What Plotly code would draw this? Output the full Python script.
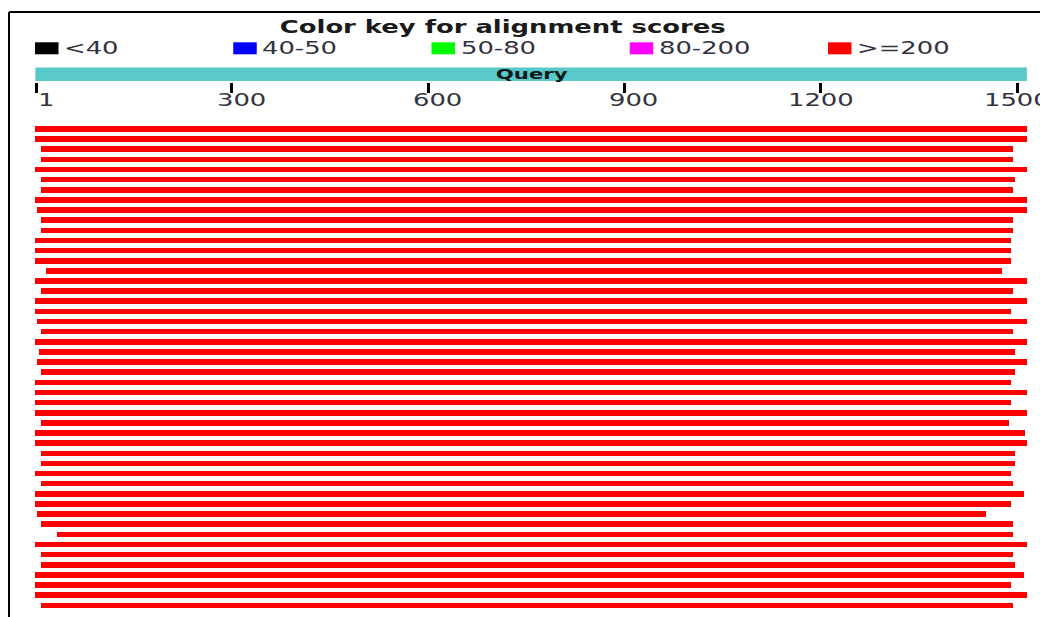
import plotly.graph_objects as go

# ---------------- data ----------------
query_length = 1515
tick_values = [1, 300, 600, 900, 1200, 1500]
tick_labels = ["1", "300", "600", "900", "1200", "1500"]
key_labels = ["<40", "40-50", "50-80", "80-200", ">=200"]
key_colors = ["#000000", "#0000FF", "#00FF00", "#FF00FF", "#FF0000"]

hit_starts = [1, 1, 9, 9, 1, 9, 9, 1, 4, 9, 9, 1, 1, 1, 17, 1, 9, 1, 1, 4, 9, 1, 6, 4,
              9, 1, 1, 1, 1, 9, 1, 1, 9, 9, 1, 9, 1, 1, 4, 9, 34, 1, 9, 9, 1, 1, 1, 9]
hit_ends = [1515, 1515, 1494, 1494, 1515, 1497, 1494, 1515, 1515, 1494, 1494, 1491,
            1491, 1491, 1477, 1515, 1494, 1515, 1491, 1515, 1494, 1515, 1497, 1515,
            1497, 1491, 1515, 1491, 1515, 1488, 1512, 1515, 1497, 1497, 1491, 1494,
            1511, 1491, 1453, 1494, 1494, 1515, 1494, 1497, 1511, 1491, 1515, 1494]
hit_color = "#FF0000"  # all hits score >= 200

# ---------------- layout constants ----------------
PAGE_OFFSET = 8            # default body margin of the html page
W, H = 1048 - PAGE_OFFSET, 617 - PAGE_OFFSET
PX_PER_UNIT = 0.6545
UNIT_ORIGIN_PX = 54 * PX_PER_UNIT   # window pixel of sequence position 0
X_MIN = (PAGE_OFFSET - UNIT_ORIGIN_PX) / PX_PER_UNIT
X_MAX = (1048 - UNIT_ORIGIN_PX) / PX_PER_UNIT
ROW_PX = 10.134
FIRST_ROW_PX = 129.0 - PAGE_OFFSET
Y_TOP = -FIRST_ROW_PX / ROW_PX
Y_BOTTOM = Y_TOP + H / ROW_PX
TEXT_STRETCH = 1.52


def py(window_y):
    return 1 - (window_y - PAGE_OFFSET) / H


def px(window_x):
    return (window_x - PAGE_OFFSET) / W


n = len(hit_starts)
rows = list(range(n))
base = [s - 1 for s in hit_starts]
lengths = [e - s + 1 for s, e in zip(hit_starts, hit_ends)]

fig = go.Figure()
fig.add_trace(go.Bar(
    orientation="h",
    y=rows,
    x=lengths,
    base=base,
    width=0.55,
    marker=dict(color=hit_color, line=dict(width=0)),
    hoverinfo="skip",
    showlegend=False,
))

shapes = []
# frame
shapes.append(dict(type="line", xref="paper", yref="paper", x0=px(9), x1=1.0,
                   y0=py(12), y1=py(12), line=dict(color="black", width=2)))
shapes.append(dict(type="line", xref="paper", yref="paper", x0=px(9), x1=px(9),
                   y0=0, y1=py(12), line=dict(color="black", width=2)))
# query bar
shapes.append(dict(type="rect", xref="x", yref="paper", x0=0, x1=query_length,
                   y0=py(81), y1=py(67.5), fillcolor="#59C8C8", line=dict(width=0)))

annotations = []
annotations.append(dict(text="<b>Color key for alignment scores</b>", xref="paper", yref="paper",
                        x=px(502.5), y=py(26.5), xanchor="center", yanchor="middle", align="center",
                        showarrow=False, font=dict(family="DejaVu Sans", size=17, color="#1a1a1a")))
annotations.append(dict(text="<b>Query</b>", xref="x", yref="paper",
                        x=query_length / 2, y=py(73.5), xanchor="center", yanchor="middle", align="center",
                        showarrow=False, font=dict(family="DejaVu Sans", size=14, color="#0d1a1a")))

# colour key
key_left0 = 35.0
key_step = 198.25
for i, (lab, col) in enumerate(zip(key_labels, key_colors)):
    x0 = key_left0 + i * key_step
    shapes.append(dict(type="rect", xref="paper", yref="paper", x0=px(x0), x1=px(x0 + 23.5),
                       y0=py(54.3), y1=py(42.3), fillcolor=col, line=dict(width=0)))
    annotations.append(dict(text=lab, xref="paper", yref="paper", x=px(x0 + 27), y=py(48.5),
                            xanchor="left", yanchor="middle", align="left", showarrow=False,
                            font=dict(family="DejaVu Sans", size=17, color="#333340")))

# ruler labels (positioned on the data axis)
label_shift = {1: 0, 2: -8, 3: -17, 4: -35}
for v, lab in zip(tick_values, tick_labels):
    annotations.append(dict(text=lab, xref="x", yref="paper", x=v, y=py(100.3),
                            xanchor="left", yanchor="middle", align="left", showarrow=False,
                            xshift=label_shift[len(lab)],
                            font=dict(family="DejaVu Sans", size=17, color="#333340")))

fig.update_layout(
    width=W, height=H,
    margin=dict(l=0, r=0, t=0, b=0, pad=0),
    paper_bgcolor="white", plot_bgcolor="white",
    shapes=shapes, annotations=annotations,
    bargap=0,
    xaxis=dict(range=[X_MIN, X_MAX], domain=[0, 1], anchor="free", position=py(81.5),
               side="bottom", showgrid=False, zeroline=False, showline=False,
               ticks="outside", ticklen=10, tickwidth=3, tickcolor="black",
               tickvals=tick_values, showticklabels=False,
               fixedrange=True),
    yaxis=dict(range=[Y_BOTTOM, Y_TOP], domain=[0, 1], visible=False, fixedrange=True),
)

# the reference glyphs are horizontally stretched; widen the text the same way
stretch_js = """
var gd = document.getElementById('{plot_id}');
gd.querySelectorAll('text.annotation-text').forEach(function(t) {
  var bb = t.getBBox();
  var a = t.getAttribute('text-anchor') || 'start';
  var cx = a === 'middle' ? bb.x + bb.width / 2 : (a === 'end' ? bb.x + bb.width : bb.x);
  var prev = t.getAttribute('transform') || '';
  t.setAttribute('transform', prev + ' translate(' + cx + ',0) scale(%s,1) translate(' + (-cx) + ',0)');
});
""" % TEXT_STRETCH

fig.write_html("out.html", config={"displayModeBar": False}, post_script=stretch_js)
